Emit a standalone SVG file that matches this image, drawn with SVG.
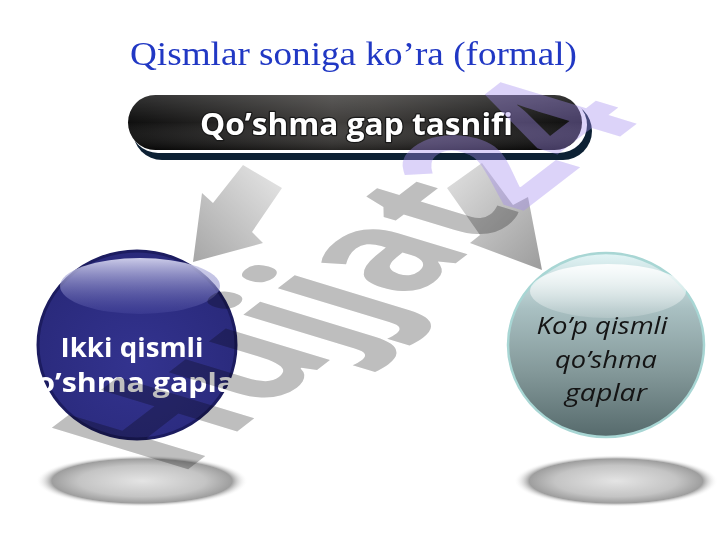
<svg xmlns="http://www.w3.org/2000/svg" width="720" height="540" viewBox="0 0 720 540">
<defs>
<style>
.title{font-family:"Liberation Serif","DejaVu Serif",serif;font-size:33px;fill:#2138c4}
.bannertxt{font-family:"Open Sans","Noto Sans",sans-serif;font-weight:bold;font-size:31px;fill:#ffffff;stroke:#1a1a1a;stroke-width:2.5px;paint-order:stroke;stroke-linejoin:round}
.lt{font-family:"Open Sans","Noto Sans",sans-serif;font-weight:bold;font-size:27px;fill:#ffffff}
.rt{font-family:"Open Sans","Noto Sans",sans-serif;font-style:italic;font-size:24px;fill:#141414}
.wm{font-family:"Open Sans","Noto Sans",sans-serif;font-weight:bold;font-size:100px}
</style>
<linearGradient id="blackG" x1="0" y1="0" x2="1" y2="0">
<stop offset="0" stop-color="#050505"/>
<stop offset="0.45" stop-color="#383634"/>
<stop offset="0.55" stop-color="#33312f"/>
<stop offset="1" stop-color="#050505"/>
</linearGradient>
<linearGradient id="glossG" x1="0" y1="0" x2="0" y2="1">
<stop offset="0" stop-color="#ffffff" stop-opacity="0.18"/>
<stop offset="0.5" stop-color="#ffffff" stop-opacity="0.04"/>
<stop offset="1" stop-color="#000000" stop-opacity="0.3"/>
</linearGradient>
<linearGradient id="arrowL" x1="1" y1="0" x2="0" y2="1">
<stop offset="0" stop-color="#e8e8e8"/>
<stop offset="1" stop-color="#a6a6a6"/>
</linearGradient>
<linearGradient id="arrowR" x1="0" y1="0" x2="1" y2="1">
<stop offset="0" stop-color="#e2e2e2"/>
<stop offset="1" stop-color="#9c9c9c"/>
</linearGradient>
<radialGradient id="blueG" cx="0.5" cy="0.6" r="0.6">
<stop offset="0" stop-color="#33338f"/>
<stop offset="1" stop-color="#29297a"/>
</radialGradient>
<linearGradient id="blueHi" x1="0" y1="0" x2="0" y2="1">
<stop offset="0" stop-color="#d4d4ee" stop-opacity="0.95"/>
<stop offset="1" stop-color="#5a5ab0" stop-opacity="0.25"/>
</linearGradient>
<linearGradient id="tealG" x1="0" y1="0" x2="0" y2="1">
<stop offset="0" stop-color="#e2f5f6"/>
<stop offset="0.3" stop-color="#a9c0c2"/>
<stop offset="0.65" stop-color="#839899"/>
<stop offset="1" stop-color="#566a6c"/>
</linearGradient>
<linearGradient id="tealHi" x1="0" y1="0" x2="0" y2="1">
<stop offset="0" stop-color="#ffffff" stop-opacity="0.9"/>
<stop offset="1" stop-color="#ffffff" stop-opacity="0.15"/>
</linearGradient>
<radialGradient id="shadowG" cx="0.5" cy="0.5" r="0.5">
<stop offset="0" stop-color="#e4e4e4"/>
<stop offset="0.6" stop-color="#c4c4c4"/>
<stop offset="0.85" stop-color="#9e9e9e"/>
<stop offset="1" stop-color="#ffffff" stop-opacity="0"/>
</radialGradient>
<clipPath id="clipL"><rect x="37" y="240" width="200" height="210"/></clipPath>
</defs>
<rect width="720" height="540" fill="#ffffff"/>

<g id="connectors">
<polygon points="243,165 282,188 252,232 263,243 193,262 202,193 213,203" fill="url(#arrowL)"/>
<polygon points="447,188 482,163 513,205 528,197 542,270 470,243 480,235" fill="url(#arrowR)"/>
</g>

<g id="title">
<text class="title" x="353.5" y="65" text-anchor="middle" textLength="447" lengthAdjust="spacingAndGlyphs">Qismlar soniga ko’ra (formal)</text>
</g>

<g id="banner">
<rect x="133" y="102" width="459" height="58" rx="29" fill="#0d2134"/>
<rect x="130" y="97" width="457" height="56" rx="28" fill="#ffffff"/>
<rect x="128" y="95" width="454" height="55" rx="27.5" fill="url(#blackG)"/>
<rect x="128" y="95" width="454" height="55" rx="27.5" fill="url(#glossG)"/>
<text class="bannertxt" x="356.5" y="135" text-anchor="middle" textLength="313" lengthAdjust="spacingAndGlyphs">Qo’shma gap tasnifi</text>
</g>

<g id="shadow-left">
<ellipse cx="142" cy="481" rx="106" ry="26" fill="url(#shadowG)"/>
</g>
<g id="shadow-right">
<ellipse cx="616" cy="481" rx="102" ry="26" fill="url(#shadowG)"/>
</g>

<g id="node-left">
<ellipse cx="137" cy="345" rx="99" ry="94" fill="url(#blueG)" stroke="#1c1c60" stroke-width="3"/>
<ellipse cx="140" cy="286" rx="80" ry="28" fill="url(#blueHi)"/>
<g clip-path="url(#clipL)">
<text class="lt" x="132" y="357" text-anchor="middle" textLength="143" lengthAdjust="spacingAndGlyphs">Ikki qismli</text>
<text class="lt" x="133" y="392" text-anchor="middle" textLength="232" lengthAdjust="spacingAndGlyphs">qo’shma gaplar</text>
</g>
</g>

<g id="node-right">
<ellipse cx="606" cy="345" rx="98" ry="92" fill="url(#tealG)" stroke="#a8d6d4" stroke-width="2.5"/>
<ellipse cx="608" cy="291" rx="78" ry="27" fill="url(#tealHi)"/>
<text class="rt" x="602" y="334" text-anchor="middle" textLength="131" lengthAdjust="spacingAndGlyphs">Ko’p qismli</text>
<text class="rt" x="606" y="368" text-anchor="middle" textLength="102" lengthAdjust="spacingAndGlyphs">qo’shma</text>
<text class="rt" x="606" y="401" text-anchor="middle" textLength="82" lengthAdjust="spacingAndGlyphs">gaplar</text>
</g>

<g id="watermark">
<text class="wm" transform="matrix(1.13,-0.87,1.91,0.58,178,477)" fill="#bebebe" style="mix-blend-mode:multiply">Hujjat</text>
<text class="wm" transform="matrix(1.13,-0.87,1.91,0.58,178,477)" x="302" fill="#a48cf0" fill-opacity="0.38">24</text>
</g>
</svg>
